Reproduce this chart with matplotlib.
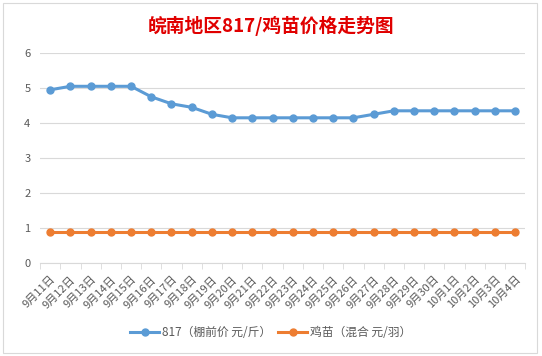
import matplotlib.pyplot as plt
import numpy as np
from matplotlib.patches import Rectangle

plt.rcParams["font.family"] = ["Noto Sans CJK SC", "DejaVu Sans"]

dates = [f"9月{d}日" for d in range(11, 31)] + [f"10月{d}日" for d in range(1, 5)]
price_817 = [4.95, 5.05, 5.05, 5.05, 5.05, 4.75, 4.55, 4.45, 4.25, 4.15,
             4.15, 4.15, 4.15, 4.15, 4.15, 4.15, 4.25, 4.35, 4.35, 4.35,
             4.35, 4.35, 4.35, 4.35]
price_chick = [0.9] * 24
label_817 = "817（棚前价 元/斤）"
label_chick = "鸡苗（混合 元/羽）"

BLUE = "#5b9bd5"
ORANGE = "#ed7d31"
GRAY = "#595959"

fig = plt.figure(figsize=(5.42, 3.56), dpi=100)
fig.patches.append(Rectangle((0.0055, 0.0084), 0.985, 0.983, transform=fig.transFigure,
                             fill=False, edgecolor="#d9d9d9", linewidth=0.8))
ax = fig.add_axes([0.074, 0.261, 0.895, 0.59])

x = np.arange(len(dates))
ax.plot(x, price_817, color=BLUE, linewidth=2.2, marker="o", markersize=5,
        label=label_817, zorder=3)
ax.plot(x, price_chick, color=ORANGE, linewidth=2.2, marker="o", markersize=5,
        label=label_chick, zorder=3)

ax.set_xlim(-0.5, len(dates) - 0.5)
ax.set_ylim(0, 6)
ax.set_yticks(range(7))
ax.grid(axis="y", color="#d9d9d9", linewidth=0.8)
ax.set_axisbelow(True)
for s in ["top", "right", "left"]:
    ax.spines[s].set_visible(False)
ax.spines["bottom"].set_color("#d9d9d9")

ax.set_xticks(x)
ax.set_xticklabels(dates, rotation=45, ha="right", rotation_mode="anchor",
                   fontsize=8, color=GRAY)
ax.set_xticks(np.arange(-0.5, len(dates)), minor=True)
ax.tick_params(axis="x", which="major", length=0, pad=8)
ax.tick_params(axis="x", which="minor", length=4, color="#d9d9d9")
ax.tick_params(axis="y", length=0, labelsize=8, labelcolor=GRAY, pad=7)

fig.suptitle("皖南地区817/鸡苗价格走势图", x=0.5, y=0.955, fontsize=13.5,
             fontweight="bold", color="#e00000")

fig.legend(loc="center", bbox_to_anchor=(0.5, 0.065), ncol=2, frameon=False,
           fontsize=8.5, labelcolor=GRAY, handlelength=2.4, handletextpad=0.3,
           columnspacing=0.6)

fig.savefig("out.png", dpi=100)
